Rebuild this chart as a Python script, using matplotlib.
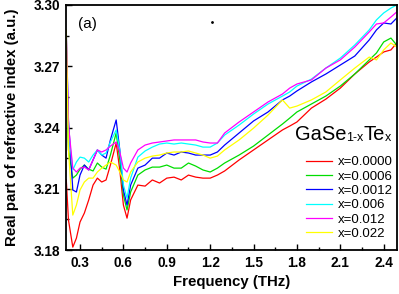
import matplotlib
matplotlib.use('Agg')
from matplotlib import pyplot as plt
from matplotlib.ticker import MultipleLocator

plt.rcParams['font.family'] = ['Liberation Sans', 'DejaVu Sans']

# frequency grid (THz)
freq = [0.205, 0.22, 0.25, 0.275, 0.30, 0.33, 0.36, 0.39, 0.42, 0.45, 0.48, 0.51,
        0.55, 0.575, 0.60, 0.625, 0.65, 0.70, 0.75, 0.80, 0.85, 0.90, 0.95, 1.00,
        1.05, 1.10, 1.15, 1.20, 1.25, 1.30, 1.40, 1.50, 1.60, 1.70, 1.75, 1.80,
        1.90, 2.00, 2.10, 2.20, 2.30, 2.35, 2.40, 2.45, 2.49]

n_0000 = [3.2143, 3.1947, 3.1814, 3.1858, 3.1937, 3.1981, 3.2045, 3.2118, 3.2152, 3.2133,
          3.2143, 3.2216, 3.2324, 3.2192, 3.2020, 3.1956, 3.2045, 3.2118, 3.2113, 3.2143,
          3.2128, 3.2152, 3.2157, 3.2143, 3.2167, 3.2157, 3.2152, 3.2152, 3.2167, 3.2187,
          3.2241, 3.2290, 3.2339, 3.2388, 3.2407, 3.2427, 3.2495, 3.2539, 3.2593, 3.2662,
          3.2721, 3.2745, 3.2770, 3.2780, 3.2814]
n_0006 = [3.2584, 3.2290, 3.2152, 3.2167, 3.2196, 3.2216, 3.2196, 3.2187, 3.2226, 3.2206,
          3.2196, 3.2265, 3.2373, 3.2241, 3.2069, 3.1996, 3.2084, 3.2167, 3.2192, 3.2206,
          3.2206, 3.2216, 3.2201, 3.2201, 3.2226, 3.2211, 3.2192, 3.2182, 3.2201, 3.2226,
          3.2265, 3.2309, 3.2363, 3.2417, 3.2446, 3.2476, 3.2515, 3.2554, 3.2603, 3.2662,
          3.2731, 3.2765, 3.2819, 3.2838, 3.2804]
n_0012 = [3.2868, 3.2437, 3.2094, 3.2084, 3.2167, 3.2216, 3.2192, 3.2241, 3.2290, 3.2265,
          3.2250, 3.2339, 3.2437, 3.2290, 3.2094, 3.2020, 3.2118, 3.2201, 3.2216, 3.2250,
          3.2250, 3.2275, 3.2265, 3.2280, 3.2275, 3.2265, 3.2265, 3.2265, 3.2280, 3.2314,
          3.2373, 3.2432, 3.2476, 3.2535, 3.2554, 3.2579, 3.2623, 3.2662, 3.2706, 3.2750,
          3.2829, 3.2878, 3.2912, 3.2907, 3.2936]
n_006 = [3.2706, 3.2388, 3.2192, 3.2231, 3.2255, 3.2250, 3.2231, 3.2265, 3.2290, 3.2265,
         3.2275, 3.2329, 3.2388, 3.2290, 3.2118, 3.2054, 3.2152, 3.2255, 3.2285, 3.2304,
         3.2319, 3.2324, 3.2319, 3.2324, 3.2319, 3.2314, 3.2304, 3.2304, 3.2324, 3.2363,
         3.2412, 3.2466, 3.2515, 3.2554, 3.2574, 3.2603, 3.2637, 3.2691, 3.2740, 3.2804,
         3.2878, 3.2927, 3.2961, 3.2985, 3.3000]
n_012 = [3.2853, 3.2412, 3.2201, 3.2182, 3.2201, 3.2206, 3.2192, 3.2241, 3.2290, 3.2280,
         3.2290, 3.2309, 3.2329, 3.2280, 3.2201, 3.2182, 3.2226, 3.2290, 3.2314, 3.2324,
         3.2329, 3.2334, 3.2339, 3.2339, 3.2339, 3.2339, 3.2329, 3.2324, 3.2324, 3.2373,
         3.2427, 3.2476, 3.2525, 3.2564, 3.2593, 3.2613, 3.2633, 3.2691, 3.2731, 3.2794,
         3.2868, 3.2907, 3.2912, 3.2941, 3.2966]
n_022 = [3.2878, 3.2290, 3.1971, 3.2020, 3.2094, 3.2133, 3.2152, 3.2152, 3.2182, 3.2201,
         3.2216, 3.2231, 3.2216, 3.2182, 3.2143, 3.2133, 3.2182, 3.2231, 3.2250, 3.2260,
         3.2265, 3.2275, 3.2280, 3.2280, 3.2285, 3.2275, 3.2265, 3.2250, 3.2260, 3.2290,
         3.2339, 3.2397, 3.2461, 3.2535, 3.2495, 3.2505, 3.2535, 3.2574, 3.2633, 3.2691,
         3.2745, 3.2731, 3.2780, 3.2814, 3.2794]

labels = ['x=0.0000', 'x=0.0006', 'x=0.0012', 'x=0.006', 'x=0.012', 'x=0.022']
colors = ['#ff0000', '#00dd00', '#0000ff', '#00ffff', '#ff00ff', '#ffff00']
series = [n_0000, n_0006, n_0012, n_006, n_012, n_022]

fig = plt.figure(figsize=(3.99, 2.94), dpi=100)
ax = fig.add_axes([66 / 399, 1 - 250 / 294, 331 / 399, 245 / 294])

for n, c, lab in zip(series, colors, labels):
    ax.plot(freq, n, color=c, lw=0.9, label=lab)

ax.plot([1.213], [3.2917], 'k.', ms=2)
ax.text(0.286, 3.2905, '(a)', fontsize=11, va='center')

ax.set_xlim(0.203, 2.492)
ax.set_ylim(3.18, 3.30)
ax.xaxis.set_major_locator(MultipleLocator(0.3))
ax.xaxis.set_minor_locator(MultipleLocator(0.15))
ax.yaxis.set_major_locator(MultipleLocator(0.03))
ax.yaxis.set_minor_locator(MultipleLocator(0.015))
ax.tick_params(which='both', direction='in', top=False, right=False, width=1)
ax.tick_params(which='major', length=4, labelsize=9.8)
ax.tick_params(axis='x', pad=4)
ax.tick_params(axis='y', pad=4)
ax.tick_params(which='minor', length=2)
for lbl in ax.get_xticklabels() + ax.get_yticklabels():
    lbl.set_fontweight('bold')
for sp in ax.spines.values():
    sp.set_linewidth(1.3)

ax.set_xlabel('Frequency (THz)', fontsize=10.8, fontweight='bold')
ax.set_ylabel('Real part of refractive index (a.u.)', fontsize=10.8, fontweight='bold')
ax.xaxis.set_label_coords(0.5, -0.101)
ax.yaxis.set_label_coords(-0.142, 0.5)

# legend title: GaSe(1-x)Te(x) with small indices
t1 = ax.text(0.692, 0.449, 'GaSe', fontsize=14.5, transform=ax.transAxes, va='baseline')
t2 = ax.annotate('1-x', xy=(1, 0), xycoords=t1, fontsize=9, va='bottom')
t3 = ax.annotate('Te', xy=(1, 0), xycoords=t2, fontsize=14.5, va='bottom')
ax.annotate('x', xy=(1, 0), xycoords=t3, fontsize=9, va='bottom')

ax.legend(loc='lower left', bbox_to_anchor=(0.709, 0.019), borderaxespad=0, frameon=False,
          fontsize=9.5, handlelength=1.97, handletextpad=0.45, labelspacing=0.16)

fig.savefig('out.png', dpi=100)
